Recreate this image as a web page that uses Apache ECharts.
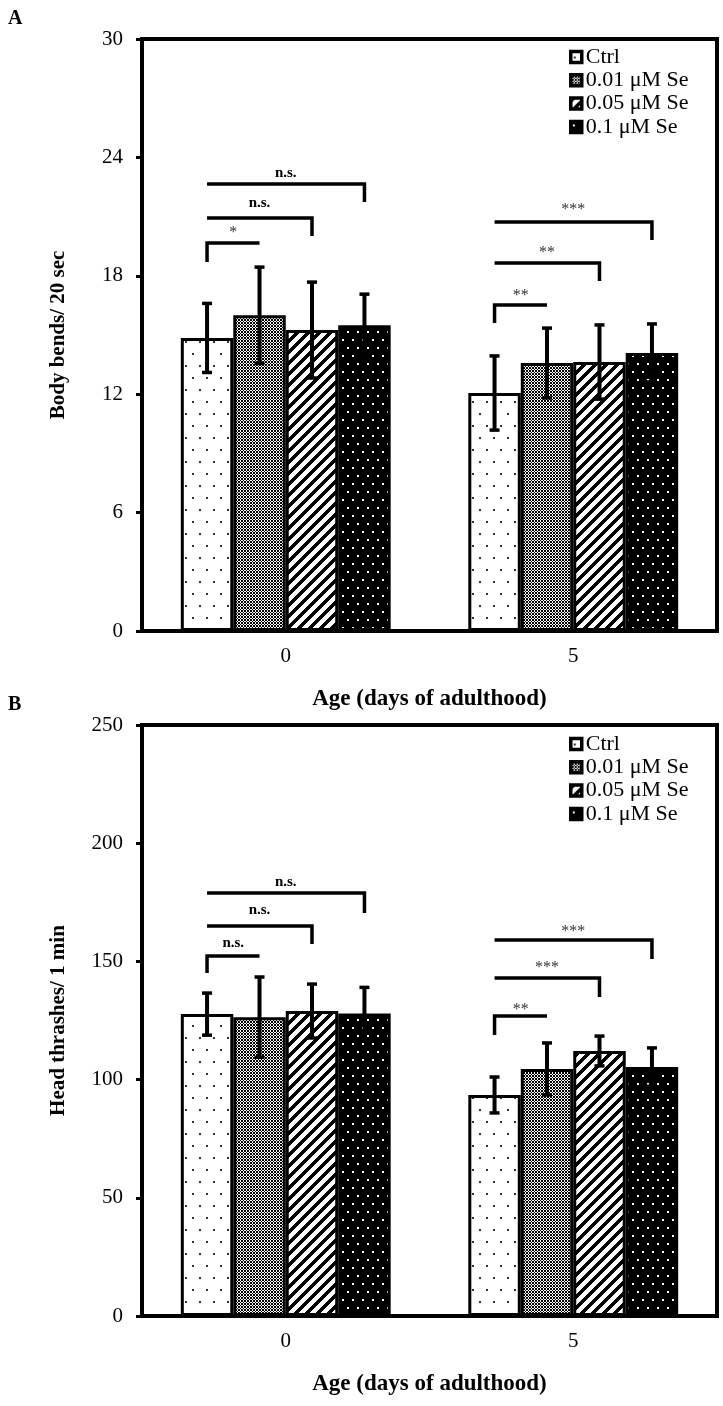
<!DOCTYPE html>
<html><head><meta charset="utf-8">
<script src="https://cdn.jsdelivr.net/npm/echarts@6.0.0/dist/echarts.min.js"></script>
<style>html,body{margin:0;padding:0;background:#fff}#c{width:723px;height:1406px}</style>
</head><body><div id="c"></div>
<script>
// ---------- DATA ----------
const categories = ['0', '5'];
const groups = ['Ctrl', '0.01 μM Se', '0.05 μM Se', '0.1 μM Se'];
const yTicksA = [0, 6, 12, 18, 24, 30];
const yTicksB = [0, 50, 100, 150, 200, 250];

// Panel A: body bends / 20 sec (mean, SD) for day 0 and day 5
const bendsCtrl    = [14.85, 12.06];
const bendsSe001   = [16.00, 13.58];
const bendsSe005   = [15.25, 13.63];
const bendsSe01    = [15.50, 14.09];
const bendsCtrlSd  = [1.75, 1.88];
const bendsSe001Sd = [2.44, 1.77];
const bendsSe005Sd = [2.43, 1.88];
const bendsSe01Sd  = [1.57, 1.47];

// Panel B: head thrashes / 1 min (mean, SD)
const thrashCtrl    = [127.7, 93.5];
const thrashSe001   = [126.4, 104.5];
const thrashSe005   = [129.0, 112.1];
const thrashSe01    = [128.0, 105.3];
const thrashCtrlSd  = [8.9, 7.6];
const thrashSe001Sd = [17.0, 11.0];
const thrashSe005Sd = [11.4, 6.3];
const thrashSe01Sd  = [11.0, 8.1];

// Significance brackets: [category, fromBar, toBar, lineValue, legOnRight(0/1), legEndValue, labelValue]
const bendsBrackets = [
  [0, 0, 1, 19.66, 0, 18.70, 20.32],
  [0, 0, 2, 20.93, 1, 20.02, 21.69],
  [0, 0, 3, 22.65, 1, 21.74, 23.21],
  [1, 0, 1, 16.52, 0, 15.61, 17.13],
  [1, 0, 2, 18.65, 1, 17.74, 19.31],
  [1, 0, 3, 20.73, 1, 19.81, 21.50]
];
const bendsBracketLabels = ['*', 'n.s.', 'n.s.', '**', '**', '***'];
const thrashBrackets = [
  [0, 0, 1, 152.3, 0, 145.1, 157.8],
  [0, 0, 2, 165.0, 1, 157.4, 171.7],
  [0, 0, 3, 178.9, 1, 170.5, 183.6],
  [1, 0, 1, 126.9, 0, 118.9, 130.7],
  [1, 0, 2, 143.0, 1, 134.9, 148.5],
  [1, 0, 3, 159.1, 1, 151.0, 163.7]
];
const thrashBracketLabels = ['n.s.', 'n.s.', 'n.s.', '**', '***', '***'];

// ---------- STYLE ----------
const FONT = '"Liberation Serif", "Times New Roman", serif';
const GAP = 0.27;

function pat(w, h, draw) {
  const c = document.createElement('canvas');
  c.width = w; c.height = h;
  const g = c.getContext('2d');
  draw(g, w, h);
  return { image: c, repeat: 'repeat' };
}
const patterns = [
  pat(14, 24, (g, w, h) => { g.fillStyle = '#fff'; g.fillRect(0, 0, w, h); g.fillStyle = '#333';
    g.fillRect(3, 5, 2, 2); g.fillRect(10, 17, 2, 2); }),
  pat(3, 3, (g, w, h) => { g.fillStyle = '#fff'; g.fillRect(0, 0, w, h); g.fillStyle = '#000';
    for (let x = 0; x < 3; x++) for (let y = 0; y < 3; y++)
      if ((x + y) % 3 === 0 || (x - y + 3) % 3 === 0) g.fillRect(x, y, 1, 1); }),
  pat(11, 11, (g, w, h) => { g.fillStyle = '#fff'; g.fillRect(0, 0, w, h); g.fillStyle = '#000';
    for (let x = 0; x < 11; x++) for (let y = 0; y < 11; y++)
      if ((x + y) % 11 < 5) g.fillRect(x, y, 1, 1); }),
  pat(10, 16, (g, w, h) => { g.fillStyle = '#000'; g.fillRect(0, 0, w, h); g.fillStyle = '#fff';
    g.fillRect(2, 3, 2, 2); g.fillRect(7, 11, 2, 2); })
];

const meansA = [bendsCtrl, bendsSe001, bendsSe005, bendsSe01];
const sdsA = [bendsCtrlSd, bendsSe001Sd, bendsSe005Sd, bendsSe01Sd];
const meansB = [thrashCtrl, thrashSe001, thrashSe005, thrashSe01];
const sdsB = [thrashCtrlSd, thrashSe001Sd, thrashSe005Sd, thrashSe01Sd];

function barX(api, cat, idx) {
  const band = api.size([1, 0])[0];
  const bw = band * (1 - GAP) / 4;
  return api.coord([cat, 0])[0] + (idx - 1.5) * bw;
}

function errorSeries(g, means, sds) {
  const data = [];
  means.forEach((m, i) => m.forEach((v, c) => data.push([c, v - sds[i][c], v + sds[i][c], i])));
  return {
    type: 'custom', xAxisIndex: g, yAxisIndex: g, z: 5, silent: true,
    encode: { x: 0, y: [1, 2] }, data: data,
    renderItem: function (params, api) {
      const c = api.value(0), lo = api.value(1), hi = api.value(2), i = api.value(3);
      const x = barX(api, c, i);
      const y1 = api.coord([c, lo])[1], y2 = api.coord([c, hi])[1];
      const st = { stroke: '#000', lineWidth: 4 };
      return { type: 'group', children: [
        { type: 'line', shape: { x1: x, y1: y1, x2: x, y2: y2 }, style: st },
        { type: 'line', shape: { x1: x - 5, y1: y1, x2: x + 5, y2: y1 }, style: { stroke: '#000', lineWidth: 3.5 } },
        { type: 'line', shape: { x1: x - 5, y1: y2, x2: x + 5, y2: y2 }, style: { stroke: '#000', lineWidth: 3.5 } }
      ] };
    }
  };
}

function bracketSeries(g, list, labels) {
  return {
    type: 'custom', xAxisIndex: g, yAxisIndex: g, z: 6, silent: true,
    encode: { x: 0, y: [1, 2, 3] },
    data: list.map(b => [b[0], b[3], b[5], b[6]]),
    renderItem: function (params, api) {
      const b = list[params.dataIndex];
      const x1 = barX(api, b[0], b[1]), x2 = barX(api, b[0], b[2]);
      const yl = api.coord([b[0], b[3]])[1];
      const yleg = api.coord([b[0], b[5]])[1];
      const ylab = api.coord([b[0], b[6]])[1];
      const pts = b[4] ? [[x1, yl], [x2, yl], [x2, yleg]] : [[x1, yleg], [x1, yl], [x2, yl]];
      const lab = labels[params.dataIndex];
      const isStar = lab.indexOf('*') >= 0;
      return { type: 'group', children: [
        { type: 'polyline', shape: { points: pts }, style: { stroke: '#000', lineWidth: 3.5, fill: null, lineJoin: 'miter', lineCap: 'butt' } },
        { type: 'text', style: { text: lab, x: (x1 + x2) / 2, y: ylab + (isStar ? 3 : 0), align: 'center', verticalAlign: 'middle',
          fill: isStar ? '#333' : '#000', font: (isStar ? 'normal 16px ' : 'bold 15px ') + FONT } }
      ] };
    }
  };
}

const axisText = { color: '#000', fontFamily: FONT, fontSize: 21 };
const nameText = { color: '#000', fontFamily: FONT, fontWeight: 'bold' };

function xAxis(g) {
  return {
    gridIndex: g, type: 'category', data: categories,
    axisLine: { lineStyle: { color: '#000', width: 4 } },
    axisTick: { show: false },
    axisLabel: Object.assign({ margin: 15 }, axisText),
    name: 'Age (days of adulthood)', nameLocation: 'middle', nameGap: 57,
    nameTextStyle: Object.assign({ fontSize: 23 }, nameText)
  };
}
function yAxis(g, ticks, name) {
  return {
    gridIndex: g, type: 'value', min: ticks[0], max: ticks[ticks.length - 1],
    interval: ticks[1] - ticks[0],
    axisLine: { show: true, lineStyle: { color: '#000', width: 4 } },
    axisTick: { show: true, length: 6, lineStyle: { color: '#000', width: 3 } },
    splitLine: { show: false },
    axisLabel: Object.assign({ margin: 19 }, axisText),
    name: name, nameLocation: 'middle', nameGap: 73,
    nameTextStyle: Object.assign({ fontSize: 21 }, nameText)
  };
}

const series = [];
[meansA, meansB].forEach((means, g) => {
  means.forEach((m, i) => series.push({
    type: 'bar', name: groups[i], xAxisIndex: g, yAxisIndex: g, data: m,
    barGap: '0%', barCategoryGap: (GAP * 100) + '%',
    itemStyle: { color: patterns[i], borderColor: '#000', borderWidth: 3 },
    emphasis: { disabled: true }, silent: true
  }));
});
series.push(errorSeries(0, meansA, sdsA));
series.push(errorSeries(1, meansB, sdsB));
series.push(bracketSeries(0, bendsBrackets, bendsBracketLabels));
series.push(bracketSeries(1, thrashBrackets, thrashBracketLabels));

function legend(top) {
  return {
    data: groups, orient: 'vertical', left: 564, top: top, icon: 'rect',
    itemWidth: 11, itemHeight: 11, itemGap: 1.3, selectedMode: false,
    itemStyle: { borderColor: '#000', borderWidth: 3.5 },
    textStyle: { color: '#000', fontFamily: FONT, fontSize: 22, lineHeight: 22, padding: [0, 0, 0, -1] }
  };
}

const chart = echarts.init(document.getElementById('c'), null, { renderer: 'canvas' });
chart.setOption({
  animation: false,
  backgroundColor: '#fff',
  grid: [
    { left: 142, right: 6, top: 39, height: 592, show: true, borderColor: '#000', borderWidth: 4 },
    { left: 142, right: 6, top: 725, height: 591, show: true, borderColor: '#000', borderWidth: 4 }
  ],
  legend: [legend(41), legend(728)],
  xAxis: [xAxis(0), xAxis(1)],
  yAxis: [yAxis(0, yTicksA, 'Body bends/ 20 sec'), yAxis(1, yTicksB, 'Head thrashes/ 1 min')],
  graphic: [
    { type: 'text', left: 8, top: 9, style: { text: 'A', font: 'bold 20px ' + FONT, fill: '#000' } },
    { type: 'text', left: 8, top: 695, style: { text: 'B', font: 'bold 20px ' + FONT, fill: '#000' } }
  ],
  series: series
});
</script>
</body></html>
